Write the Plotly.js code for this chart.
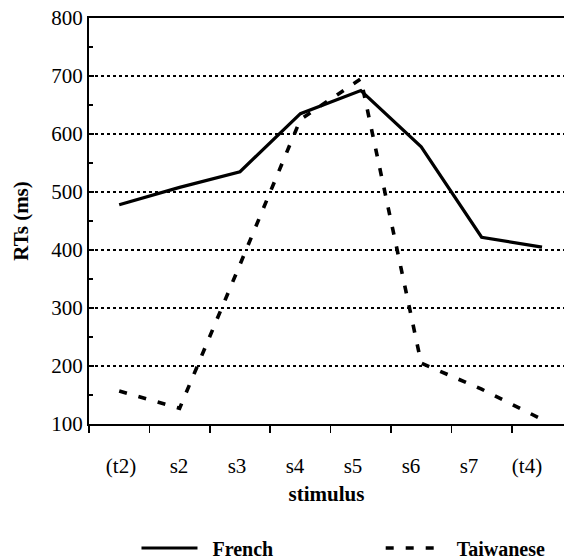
<!DOCTYPE html>
<html>
<head>
<meta charset="utf-8">
<script src="https://cdn.plot.ly/plotly-3.0.1.min.js"></script>
<style>html,body{margin:0;padding:0;background:#fff;}#chart{width:564px;height:559px;}</style>
</head>
<body>
<div id="chart"></div>
<script>
const stimuli = ["(t2)", "s2", "s3", "s4", "s5", "s6", "s7", "(t4)"];
const french = [478, 508, 535, 635, 675, 578, 422, 405];
const taiwanese = [157, 127, 375, 625, 695, 205, 160, 108];
const yTicks = [100, 200, 300, 400, 500, 600, 700, 800];
const labelSlots = [0, 1, 2, 3, 4, 5, 6, 7];

const FONT = "Liberation Serif, Times New Roman, serif";
const SP = "\u2002";

const traces = [
  {x: stimuli, y: french, name: SP + "French", type: "scatter", mode: "lines",
   line: {color: "#000", width: 3.2}, legend: "legend"},
  {x: stimuli, y: taiwanese, name: SP + "Taiwanese", type: "scatter", mode: "lines",
   line: {color: "#000", width: 3.6, dash: "8px,12px"}, legend: "legend2"},
  // empty carrier so the label axis (x2) is drawn
  {x: [], y: [], xaxis: "x2", yaxis: "y", type: "scatter", mode: "lines",
   showlegend: false, hoverinfo: "skip"}
];

const legendBase = {
  orientation: "h", xref: "container", yref: "container",
  y: 0.0197, xanchor: "left", yanchor: "middle",
  font: {family: FONT, size: 20, weight: "bold", color: "#000"},
  itemwidth: 56, bgcolor: "rgba(0,0,0,0)"
};

const layout = {
  width: 564, height: 559,
  margin: {l: 89, r: 0, t: 18, b: 135, autoexpand: false},
  paper_bgcolor: "#fff", plot_bgcolor: "#fff",
  font: {family: FONT, color: "#000", size: 21},
  showlegend: true,
  legend: Object.assign({}, legendBase, {x: 0.242}),
  legend2: Object.assign({}, legendBase, {x: 0.675}),
  xaxis: {
    type: "category", range: [-0.5, 7.364], tickson: "boundaries",
    ticks: "outside", ticklen: 7, tickwidth: 1.5, tickcolor: "#000",
    showline: true, linecolor: "#000", linewidth: 2, mirror: true,
    showgrid: false, zeroline: false, showticklabels: false, automargin: false
  },
  xaxis2: {
    type: "linear", overlaying: "x", anchor: "y", side: "bottom",
    range: [-0.552, 7.638], tickvals: labelSlots, ticktext: stimuli,
    ticks: "", showline: false, showgrid: false, zeroline: false,
    ticklabelstandoff: 27, automargin: false,
    tickfont: {family: FONT, size: 21},
    title: {text: "stimulus", font: {family: FONT, size: 21, weight: "bold"}, standoff: 9}
  },
  yaxis: {
    range: [100, 800], tickvals: yTicks, ticktext: yTicks.map(String),
    ticks: "inside", ticklen: 5, tickcolor: "#000", tickwidth: 1.5,
    minor: {ticks: "inside", dtick: 50, tick0: 50, ticklen: 4, tickcolor: "#000", showgrid: false},
    showline: true, linecolor: "#000", linewidth: 2,
    showgrid: true, gridcolor: "#000", griddash: "dot", gridwidth: 1.2,
    zeroline: false, automargin: false,
    tickfont: {family: FONT, size: 21},
    title: {text: "RTs (ms)", font: {family: FONT, size: 21, weight: "bold"}, standoff: 17}
  }
};

Plotly.newPlot("chart", traces, layout, {displayModeBar: false, staticPlot: true});
</script>
</body>
</html>
